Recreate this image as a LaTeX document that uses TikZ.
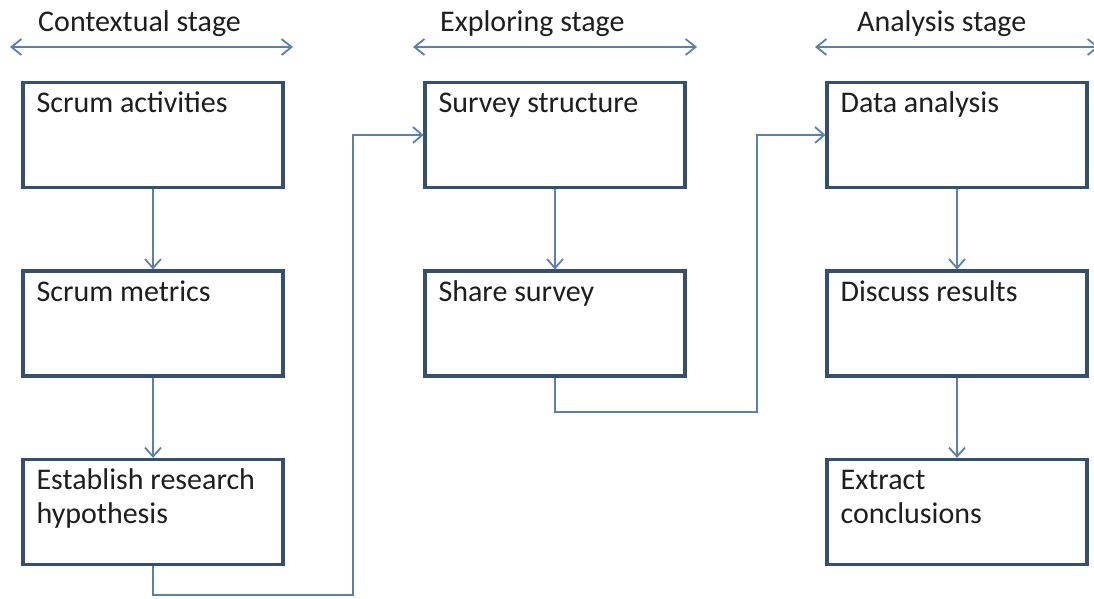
\documentclass[tikz,border=0pt]{standalone}
\usepackage{fontspec}
\setmainfont{Carlito}
\usetikzlibrary{arrows.meta,calc}
\definecolor{boxline}{HTML}{354F70}
\definecolor{flowline}{HTML}{5A80B2}
\definecolor{inktext}{HTML}{1E1E1E}
% two-line box text whose reference point is the first baseline
\newcommand{\twolines}[2]{\vtop{\hbox{#1}\hbox{#2}}}
\begin{document}
\begin{tikzpicture}[x=1pt,y=-1pt,
  stagebox/.style={draw=boxline,line width=3.2pt,fill=white,minimum width=260pt,minimum height=105pt,inner sep=0pt},
  boxtext/.style={anchor=base west,inner sep=0pt,text=inktext,font=\fontsize{30}{34}\selectfont},
  stagelabel/.style={anchor=base west,inner sep=0pt,text=inktext,font=\fontsize{30}{34}\selectfont},
  flow/.style={draw=flowline,line width=1.8pt,-{Straight Barb[length=9pt,width=16pt,line width=1.8pt]}},
  span/.style={draw=flowline,line width=1.8pt,{Straight Barb[length=10pt,width=16pt,line width=1.8pt]}-{Straight Barb[length=10pt,width=16pt,line width=1.8pt]}}
]
\useasboundingbox[fill=white] (0,0) rectangle (1094,599);

% stage headings with their double arrows
\coordinate (s1l) at (10,47);   \coordinate (s1r) at (293,47);
\coordinate (s2l) at (413,47);  \coordinate (s2r) at (697,47);
\coordinate (s3l) at (815,47);  \coordinate (s3r) at (1099,47);
\draw[span] (s1l) -- (s1r);
\draw[span] (s2l) -- (s2r);
\draw[span] (s3l) -- (s3r);
\node[stagelabel] (h1) at (38,32)  {Contextual stage};
\node[stagelabel] (h2) at (440,32) {Exploring stage};
\node[stagelabel] (h3) at (857,32) {Analysis stage};

% process boxes
\node[stagebox] (b1) at (153,135)   {};
\node[stagebox] (b2) at (153,323.5) {};
\node[stagebox] (b3) at (153,512)   {};
\node[stagebox] (b4) at (555,135)   {};
\node[stagebox] (b5) at (555,323.5) {};
\node[stagebox] (b6) at (957,135)   {};
\node[stagebox] (b7) at (957,323.5) {};
\node[stagebox] (b8) at (957,512)   {};

\node[boxtext] (t1) at ($(b1.north west)+(15,32)$) {Scrum activities};
\node[boxtext] (t2) at ($(b2.north west)+(15,32)$) {Scrum metrics};
\node[boxtext] (t3) at ($(b3.north west)+(15,32)$) {\twolines{Establish research}{hypothesis}};
\node[boxtext] (t4) at ($(b4.north west)+(15,32)$) {Survey structure};
\node[boxtext] (t5) at ($(b5.north west)+(15,32)$) {Share survey};
\node[boxtext] (t6) at ($(b6.north west)+(15,32)$) {Data analysis};
\node[boxtext] (t7) at ($(b7.north west)+(15,32)$) {Discuss results};
\node[boxtext] (t8) at ($(b8.north west)+(15,32)$) {\twolines{Extract}{conclusions}};

% connectors
\coordinate (j1) at (353,595);
\coordinate (j2) at (757,412);
\draw[flow] (b1.south) -- (b2.north);
\draw[flow] (b2.south) -- (b3.north);
\draw[flow] (b3.south) |- (j1) |- (b4.west);
\draw[flow] (b4.south) -- (b5.north);
\draw[flow] (b5.south) |- (j2) |- (b6.west);
\draw[flow] (b6.south) -- (b7.north);
\draw[flow] (b7.south) -- (b8.north);
\end{tikzpicture}
\end{document}
